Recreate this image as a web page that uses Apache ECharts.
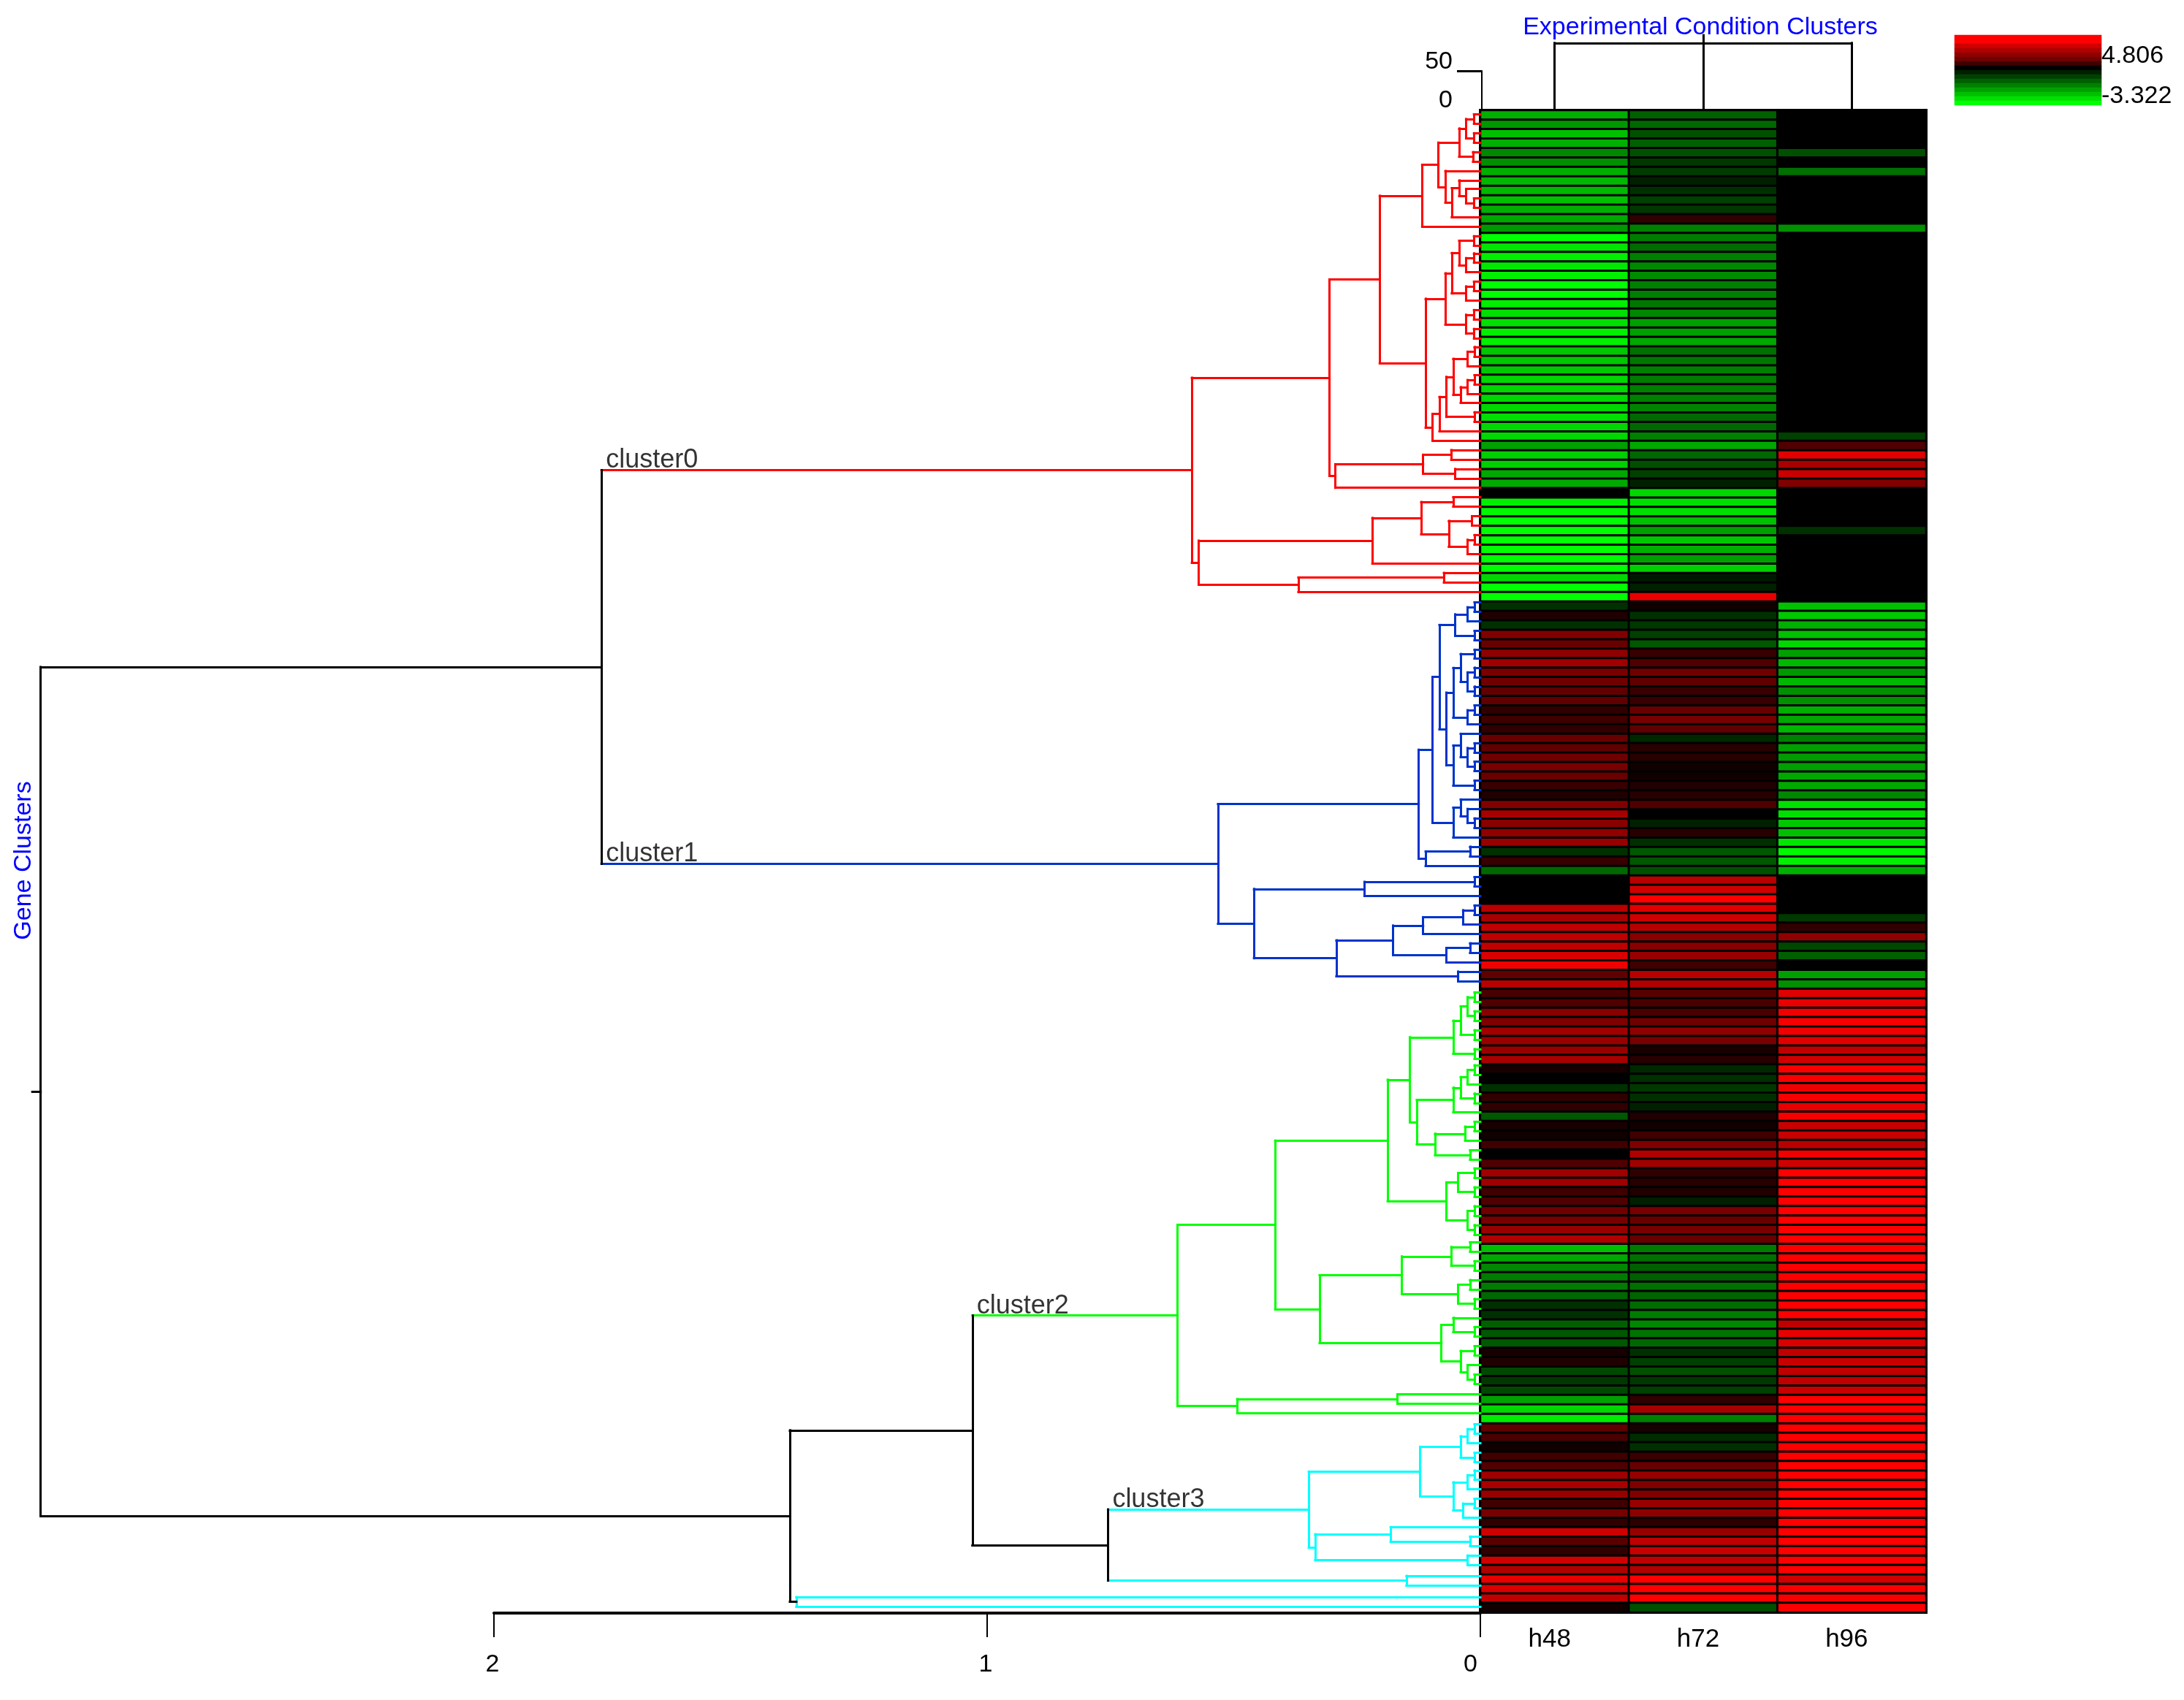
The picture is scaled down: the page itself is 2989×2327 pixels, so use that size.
<!DOCTYPE html>
<html><head><meta charset="utf-8">
<style>html,body{margin:0;padding:0;background:#fff}#c{width:2989px;height:2327px}</style>
<script src="https://cdn.jsdelivr.net/npm/echarts@6/dist/echarts.min.js"></script>
</head><body><div id="c"></div>
<script>
// Signed colour level per gene row: negative = green, positive = red, full scale +-255
const conditions = ['h48','h72','h96'];
const h48 = [-176,-152,-192,-176,-136,-144,-176,-184,-184,-192,-176,-168,-152,-255,-232,-240,-232,-240,-255,-255,-240,-224,-224,-240,-240,
-200,-200,-200,-216,-216,-216,-216,-224,-216,-216,-160,-208,-208,-168,-168,0,-240,-248,-255,-255,-255,-255,-255,-255,-216,-255,-255,
-48,32,-48,128,104,144,160,120,112,96,96,48,64,48,104,96,112,120,104,56,32,128,168,136,144,152,-48,56,-104,
0,0,0,184,168,192,192,192,216,240,96,184,
72,80,136,128,160,152,152,168,24,0,-48,48,48,-88,24,16,64,0,80,160,160,64,80,112,120,152,176,
-192,-168,-136,-124,-124,-104,-48,-48,-96,-88,-88,24,32,-72,-56,-72,-160,-216,-238,
96,72,16,64,80,160,168,152,64,120,48,208,88,48,208,176,232,216,192,16];
const h72 = [-96,-104,-80,-96,-80,-56,-60,-32,-48,-64,-56,48,-128,-124,-108,-128,-136,-140,-128,-128,-120,-136,-160,-160,-168,
-112,-120,-128,-124,-128,-128,-132,-104,-104,-128,-168,-104,-80,-64,-32,-216,-224,-224,-192,-160,-200,-176,-160,-208,-24,-32,232,
16,-48,-56,-64,-88,56,80,112,96,56,56,104,120,96,-40,40,40,16,16,32,40,80,0,-32,40,-48,-88,-88,-80,
184,208,255,224,208,184,136,136,152,64,184,176,
88,72,72,112,144,120,24,40,-40,-48,-56,-48,-32,32,16,64,128,176,160,48,40,32,-32,120,104,120,104,
-124,-112,-96,-96,-112,-100,-108,-124,-136,-116,-104,-48,-64,-80,-56,-64,48,168,-128,
24,-44,-48,56,104,152,128,128,152,140,44,152,192,200,192,176,255,255,255,-80];
const h96 = [0,0,0,0,-80,0,-112,0,0,0,0,0,-144,0,0,0,0,0,0,0,0,0,0,0,0,
0,0,0,0,0,0,0,0,0,-64,80,224,168,200,128,0,0,0,0,-48,0,0,0,0,0,0,0,
-192,-200,-176,-192,-216,-160,-184,-152,-184,-144,-144,-176,-168,-184,-128,-160,-156,-160,-168,-168,-136,-224,-224,-200,-192,-232,-248,-240,-176,
0,0,0,0,-56,48,144,-72,-96,0,-160,-144,
224,232,240,248,240,224,192,208,248,248,240,248,232,248,200,200,184,240,208,255,255,255,255,255,255,255,255,
255,255,255,255,255,255,255,255,192,232,216,192,200,192,192,200,255,255,255,
255,255,255,255,255,255,255,255,255,255,255,255,255,255,255,255,208,248,248,255];

// Colour key bands, top to bottom, and its two printed limits
const keyLevels = [255,255,208,176,144,112,64,0,-32,-64,-96,-128,-160,-192,-224,-255];
const keyMax = '4.806', keyMin = '-3.322';

// Leaf lines do not sit exactly on the row centres: [last row of range, shift in rows]
const leafDrift = [[8,-.08],[15,-.18],[25,-.36],[31,-.45],[52,-.54],[58,-.40],[69,-.5],[81,-.55],[93,-.33],[101,-.13],[112,-.42],[120,-.5],[136,-.68],[139,-.58],[144,-.4],[155,-.52],[157,-.36],[159,-.12]];

// Gene tree: [distance, child, child, colour?, stemColour?]; a child is a node or a row number
const c0a = [.118,[.085,[.043,[.029,[.013,1,2],[.013,3,4]],[.015,5,6]],[.071,7,[.058,[.043,8,[.029,9,[.013,10,11]]],12]]],13];
const c0b = [.071,[.058,[.043,[.013,14,15],[.029,[.013,16,17],18]],[.029,[.013,19,20],21]],[.029,[.013,22,23],[.013,24,25]]];
const c0c = [.097,[.083,[.069,[.055,[.026,[.012,26,27],28],[.040,[.026,[.012,29,30],31],32]],[.012,33,34]],35],36];
const c0d = [.294,[.116,[.059,37,38],[.051,39,40]],41];
const c0e = [.219,[.12,[.055,42,43],[.064,[.017,44,45],[.026,[.012,46,47],48]]],49];
const c0f = [.369,[.074,50,51],52];
const cluster0 = [.585,[.306,[.204,c0a,[.111,c0b,c0c]],c0d],[.571,c0e,c0f],'red'];

const c1a = [.051,[.026,[.012,53,54],55],[.012,56,57]];
const c1b = [.055,[.040,[.012,58,59],[.026,[.012,60,61],[.012,62,63]]],[.026,[.012,64,65],66]];
const c1c = [.055,[.040,67,[.026,[.012,68,69],[.012,70,71]]],[.012,72,73]];
const c1d = [.055,[.040,74,[.026,75,[.012,76,77]]],78];
const c1e = [.125,[.097,[.083,c1a,[.069,c1b,c1c]],c1d],[.111,[.021,79,80],81]];
const c1f = [.459,[.235,[.012,82,83],84],[.292,[.177,[.116,[.035,[.012,85,86],87],88],[.069,[.021,89,90],91]],[.045,92,93]]];
const cluster1 = [.532,c1e,c1f,'blue'];

const c2a = [.055,[.040,[.026,[.012,94,95],[.012,96,97]],[.012,98,99]],[.012,100,101]];
const c2b = [.129,[.055,[.040,[.026,[.012,102,103],104],[.012,105,106]],107],[.092,[.031,[.012,108,109],110],[.021,111,112]]];
const c2c = [.069,[.045,[.012,113,114],[.012,115,116]],[.026,[.012,117,118],[.012,119,120]]];
const c2d = [.159,[.059,[.021,121,122],[.012,123,124]],[.045,[.021,125,126],[.012,127,128]]];
const c2e = [.079,[.055,129,[.012,130,131]],[.040,[.012,132,133],[.026,134,[.012,135,136]]]];
const cluster2 = [.614,[.416,[.188,[.143,c2a,c2b],c2c],[.326,c2d,c2e]],[.493,[.168,137,138],139],'green'];

const c3a = [.122,[.040,[.026,[.012,140,141],142],[.012,143,144]],[.055,[.026,[.012,145,146],147],[.035,[.012,148,149],150]]];
const c3b = [.335,[.182,151,[.021,152,153]],[.026,154,155]];
const cluster3 = [.348,c3a,c3b,'cyan'];
const c3c = [.150,156,157,'cyan'];
const c3d = [1.387,158,159,'cyan','black'];
const geneTree = [2.919,[1.782,cluster0,cluster1],[1.40,[1.03,cluster2,[.755,cluster3,c3c]],c3d]];
const rootStem = 2.936;
const clusterLabels = [['cluster0',cluster0],['cluster1',cluster1],['cluster2',cluster2],['cluster3',cluster3]];

// Condition tree heights
const conditionJoin = 86, conditionStem = 96;

const palette = {red:'#ff0000',blue:'#0033cc',green:'#00ff00',cyan:'#00ffff',black:'#000000'};
const nRows = h48.length;

function leafY(r){
  for (const [last,s] of leafDrift) if (r<=last) return r-0.5+s;
  return r-0.5;
}
const segs = [], nodeInfo = new Map();
function push(a,b,c){ segs.push({coords:[a,b],lineStyle:{color:palette[c]}}); }
function walk(n,inherit,parentD){
  if (typeof n==='number'){
    const y=leafY(n);
    push([parentD,y],[0,y],inherit);
    return y;
  }
  const col=n[3]||inherit, stem=n[4]||col;
  const y1=walk(n[1],col,n[0]), y2=walk(n[2],col,n[0]), y=(y1+y2)/2;
  push([n[0],y1],[n[0],y2],col);
  push([parentD,y],[n[0],y],stem);
  nodeInfo.set(n,{y,parentD});
  return y;
}
walk(geneTree,'black',rootStem);

const labelData = clusterLabels.map(([t,n])=>({name:t,value:[nodeInfo.get(n).parentD,nodeInfo.get(n).y]}));
const heatData = [];
[h48,h72,h96].forEach((col,i)=>col.forEach((v,r)=>heatData.push([i,r,v])));
const keyData = keyLevels.map((v,i)=>[0,i,v]);
const centres = conditions.map((_,i)=>i+0.5);
const condSegs = [
  [[centres[0],0],[centres[0],conditionJoin]],
  [[centres[2],0],[centres[2],conditionJoin]],
  [[centres[0],conditionJoin],[centres[2],conditionJoin]],
  [[centres[1],0],[centres[1],conditionStem]]
].map(c=>({coords:c}));

const font = 'Liberation Sans';
const txt = (text,x,y,fill,align,extra)=>Object.assign({type:'text',x,y,silent:true,
  style:{text,fill,font:'34px "'+font+'"',textAlign:align,textVerticalAlign:'middle'}},extra||{});

const chart = echarts.init(document.getElementById('c'),null,{renderer:'canvas'});
chart.setOption({
  animation:false,
  backgroundColor:'#ffffff',
  textStyle:{fontFamily:font},
  grid:[
    {left:676,top:151,width:1350,height:2056},
    {left:2026,top:151,width:610,height:2056,show:true,backgroundColor:'#000',borderColor:'#000',borderWidth:4},
    {left:2026,top:97,width:610,height:53},
    {left:2675,top:48,width:201,height:96}
  ],
  xAxis:[
    {type:'value',gridIndex:0,inverse:true,min:0,max:2,interval:1,offset:1,splitLine:{show:false},
     axisLine:{onZero:false,lineStyle:{color:'#000',width:4}},axisTick:{length:33,lineStyle:{color:'#000',width:2}},
     axisLabel:{fontSize:34,color:'#000',margin:54,fontFamily:font,alignMinLabel:'right',showMinLabel:true,showMaxLabel:true,padding:[0,4,0,0]}},
    {type:'category',gridIndex:1,data:conditions,axisLine:{show:false},axisTick:{show:false},
     axisLabel:{fontSize:35,color:'#000',margin:20,fontFamily:font,padding:[0,14,0,0]}},
    {type:'value',gridIndex:2,min:0,max:3,show:false},
    {type:'category',gridIndex:3,data:['key'],show:false}
  ],
  yAxis:[
    {type:'value',gridIndex:0,inverse:true,min:0,max:nRows,show:false},
    {type:'category',gridIndex:1,inverse:true,data:h48.map((_,i)=>i+1),show:false},
    {type:'value',gridIndex:2,min:0,max:50,interval:50,offset:-2,splitLine:{show:false},
     axisLine:{show:true,onZero:false,lineStyle:{color:'#000',width:2}},
     axisTick:{show:true,length:34,customValues:[50],lineStyle:{color:'#000',width:3}},
     axisLabel:{fontSize:34,color:'#000',margin:40,fontFamily:font,verticalAlign:'bottom',lineHeight:24}},
    {type:'category',gridIndex:3,inverse:true,data:keyLevels.map((_,i)=>i),show:false}
  ],
  visualMap:{type:'continuous',show:false,min:-255,max:255,dimension:2,seriesIndex:[0,1],
    inRange:{color:['#00ff00','#000000','#ff0000']}},
  series:[
    {type:'heatmap',xAxisIndex:1,yAxisIndex:1,data:heatData,silent:true,
     itemStyle:{borderColor:'#000',borderWidth:3}},
    {type:'heatmap',xAxisIndex:3,yAxisIndex:3,data:keyData,silent:true},
    {type:'lines',coordinateSystem:'cartesian2d',xAxisIndex:0,yAxisIndex:0,polyline:false,clip:false,silent:true,
     lineStyle:{width:3,opacity:1,curveness:0,cap:'square'},data:segs},
    {type:'lines',coordinateSystem:'cartesian2d',xAxisIndex:2,yAxisIndex:2,polyline:false,clip:false,silent:true,
     lineStyle:{width:3,opacity:1,curveness:0,color:'#000',cap:'square'},data:condSegs},
    {type:'scatter',xAxisIndex:0,yAxisIndex:0,symbolSize:0,silent:true,data:labelData,
     label:{show:true,formatter:'{b}',position:[6,-31],align:'left',verticalAlign:'top',fontSize:36,color:'#000',fontFamily:font}}
  ],
  graphic:{elements:[
    txt('Experimental Condition Clusters',2327,38,'#0000ff','center'),
    txt('Gene Clusters',33,1178,'#0000ff','center',{rotation:Math.PI/2}),
    txt(keyMax,2876,77,'#000','left'),
    txt(keyMin,2876,132,'#000','left')
  ]}
});
</script></body></html>
